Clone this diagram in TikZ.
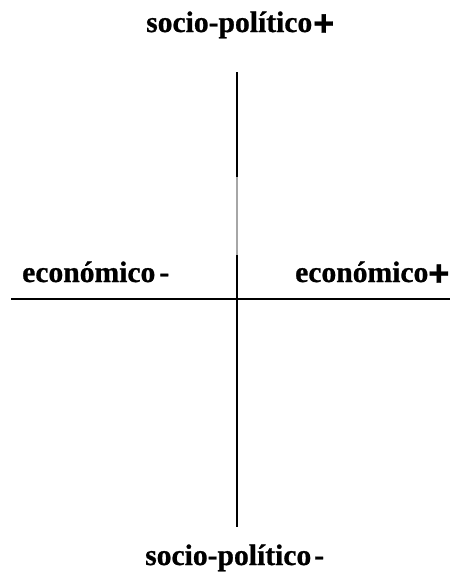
\documentclass[tikz,border=0pt]{standalone}
\usepackage{fontspec}
\setmainfont{Liberation Serif}[BoldFeatures={FakeBold=0.8}]
\newfontfamily\plusfont{Liberation Sans}[BoldFeatures={FakeBold=0.8}]
\newcommand{\bigplus}{\raisebox{-3.5pt}{\plusfont\fontsize{36}{36}\selectfont\bfseries +}}
\begin{document}
\begin{tikzpicture}[x=1pt,y=-1pt,
  lab/.style={font=\fontsize{29.6}{32}\selectfont\bfseries, inner sep=0pt, anchor=base west},
  axis/.style={line width=1.5pt, black}]
\useasboundingbox (0,0) rectangle (454,576);
\coordinate (vtop) at (237,72);
\coordinate (vmid1) at (237,177);
\coordinate (vmid2) at (237,255);
\coordinate (vbot) at (237,527);
\coordinate (hl) at (11,299);
\coordinate (hr) at (450,299);
\draw[axis] (vtop) -- (vmid1);
\draw[line width=1.5pt, black!35] (vmid1) -- (vmid2);
\draw[axis] (vmid2) -- (vbot);
\draw[axis] (hl) -- (hr);
\node[lab] (top) at (146,32) {socio-político\hspace{1pt}\bigplus};
\node[lab] (left) at (22,282) {económico\hspace{4pt}-};
\node[lab] (right) at (295,282) {económico\bigplus};
\node[lab] (bottom) at (145,565) {socio-político\hspace{3pt}-};
\end{tikzpicture}
\end{document}
